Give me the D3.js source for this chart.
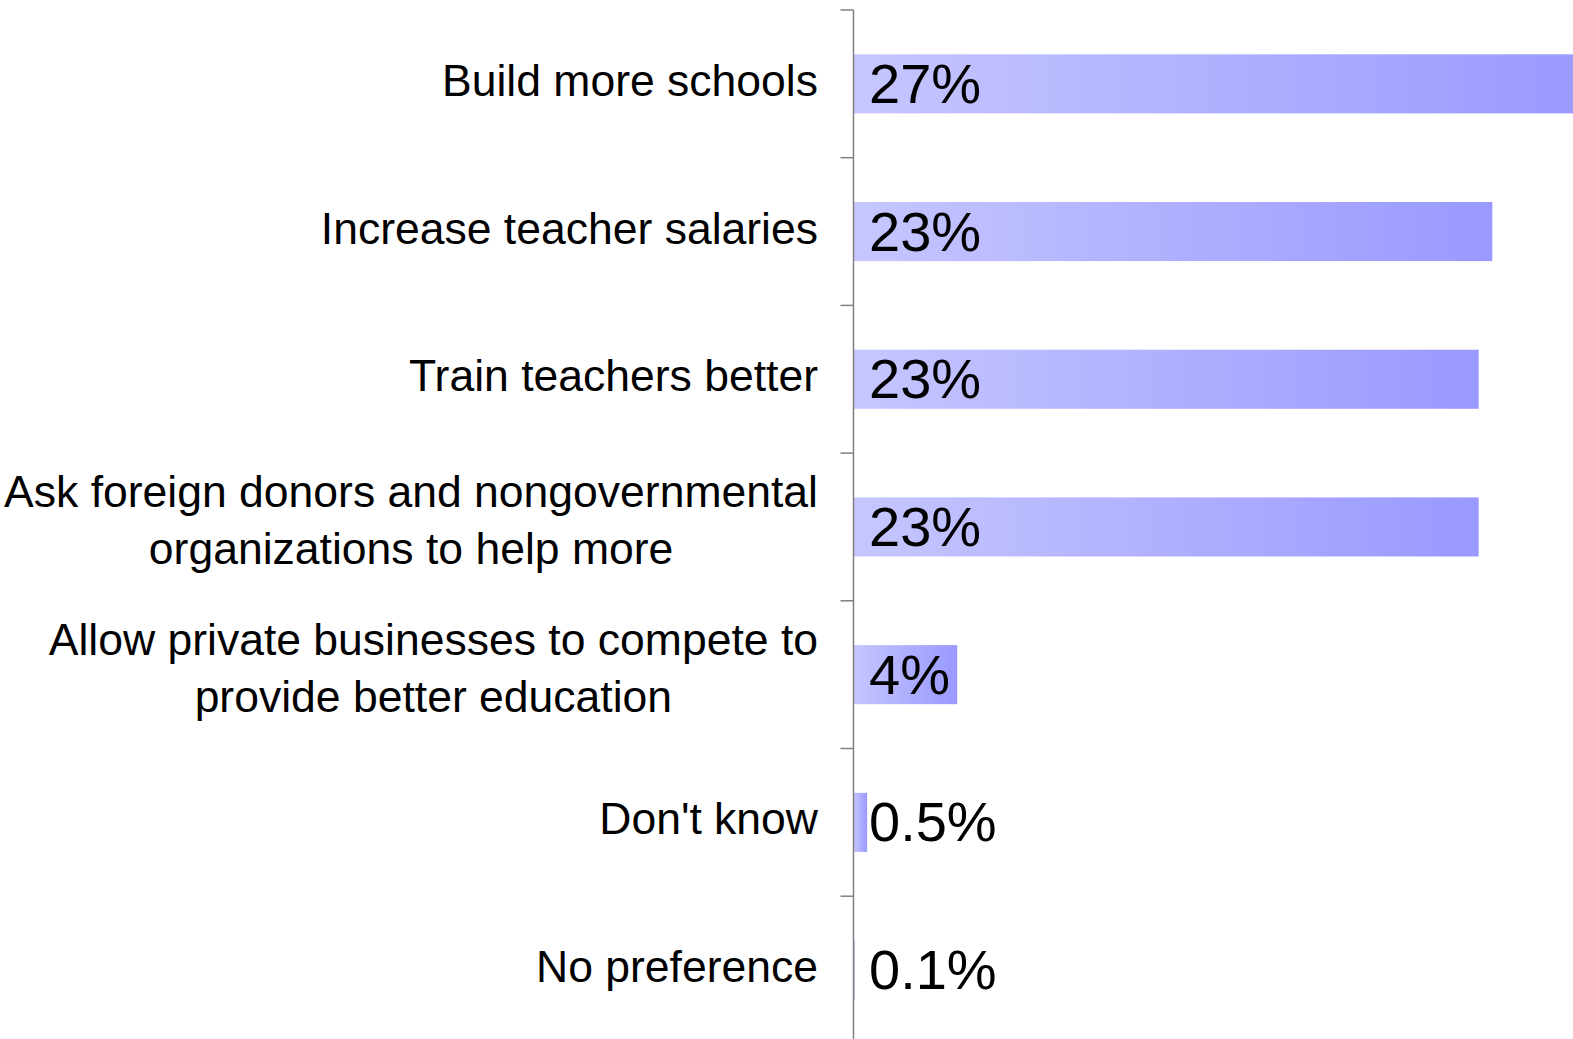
<!DOCTYPE html>
<html>
<head>
<meta charset="utf-8">
<script src="https://cdn.jsdelivr.net/npm/d3@7"></script>
<style>
  html, body { margin: 0; padding: 0; background: #fff; }
  svg { display: block; font-family: "Liberation Sans", Arial, sans-serif; }
</style>
</head>
<body>
<svg width="1573" height="1039"></svg>
<script>
const categories = [
    "Build more schools",
    "Increase teacher salaries",
    "Train teachers better",
    "Ask foreign donors and nongovernmental\norganizations to help more",
    "Allow private businesses to compete to\nprovide better education",
    "Don't know",
    "No preference"
];
const values = [27.0, 23.4, 22.9, 22.9, 3.8, 0.5, 0.04];
const valueLabels = ["27%", "23%", "23%", "23%", "4%", "0.5%", "0.1%"];

const svg = d3.select('svg');
const axisX = 853.5, plotTop = 10, plotBottom = 10 + 7 * 147.7;

const x = d3.scaleLinear().domain([0, 30]).range([axisX, axisX + 30 * 27.3]);
const y = d3.scaleBand().domain(d3.range(categories.length))
    .range([plotTop, plotBottom]).paddingInner(0.6).paddingOuter(0.3);
const step = y.step();

// gradient for bars (light -> dark across each bar)
const grad = svg.append('defs').append('linearGradient')
    .attr('id', 'barGrad').attr('x1', 0).attr('x2', 1).attr('y1', 0).attr('y2', 0);
grad.append('stop').attr('offset', 0).attr('stop-color', '#c6c6ff');
grad.append('stop').attr('offset', 1).attr('stop-color', '#9999ff');

// bars
svg.selectAll('rect.bar')
    .data(values)
    .join('rect')
    .attr('class', 'bar')
    .attr('x', x(0))
    .attr('y', (d, i) => y(i))
    .attr('width', d => x(d) - x(0))
    .attr('height', y.bandwidth())
    .attr('fill', 'url(#barGrad)');

// axis line + ticks at category boundaries
svg.append('line')
    .attr('x1', axisX).attr('x2', axisX).attr('y1', plotTop).attr('y2', plotBottom)
    .attr('stroke', '#7f7f7f').attr('stroke-width', 1.5);
svg.selectAll('line.tick')
    .data(d3.range(categories.length + 1))
    .join('line')
    .attr('class', 'tick')
    .attr('x1', axisX - 13).attr('x2', axisX)
    .attr('y1', i => plotTop + i * step).attr('y2', i => plotTop + i * step)
    .attr('stroke', '#7f7f7f').attr('stroke-width', 1.5);

// value labels
svg.selectAll('text.val')
    .data(valueLabels)
    .join('text')
    .attr('class', 'val')
    .attr('x', 869)
    .attr('y', (d, i) => y(i) + y.bandwidth() / 2 + 19)
    .attr('font-size', 56)
    .attr('fill', '#000')
    .text(d => d);

// category labels
const labelRight = 818, lineH = 57;
categories.forEach((c, i) => {
    const lines = c.split('\n');
    const cy = y(i) + y.bandwidth() / 2;
    const g = svg.append('g');
    const t = g.selectAll('text')
        .data(lines)
        .join('text')
        .attr('font-size', 44.5)
        .attr('fill', '#000')
        .attr('y', (d, j) => cy + 12 + (j - (lines.length - 1) / 2) * lineH - (lines.length > 1 ? 3 : 0))
        .text(d => d);
    if (lines.length === 1) {
        t.attr('x', labelRight).attr('text-anchor', 'end');
    } else {
        const w = d3.max(t.nodes(), n => n.getComputedTextLength());
        t.attr('x', labelRight - w / 2).attr('text-anchor', 'middle');
    }
});
</script>
</body>
</html>
